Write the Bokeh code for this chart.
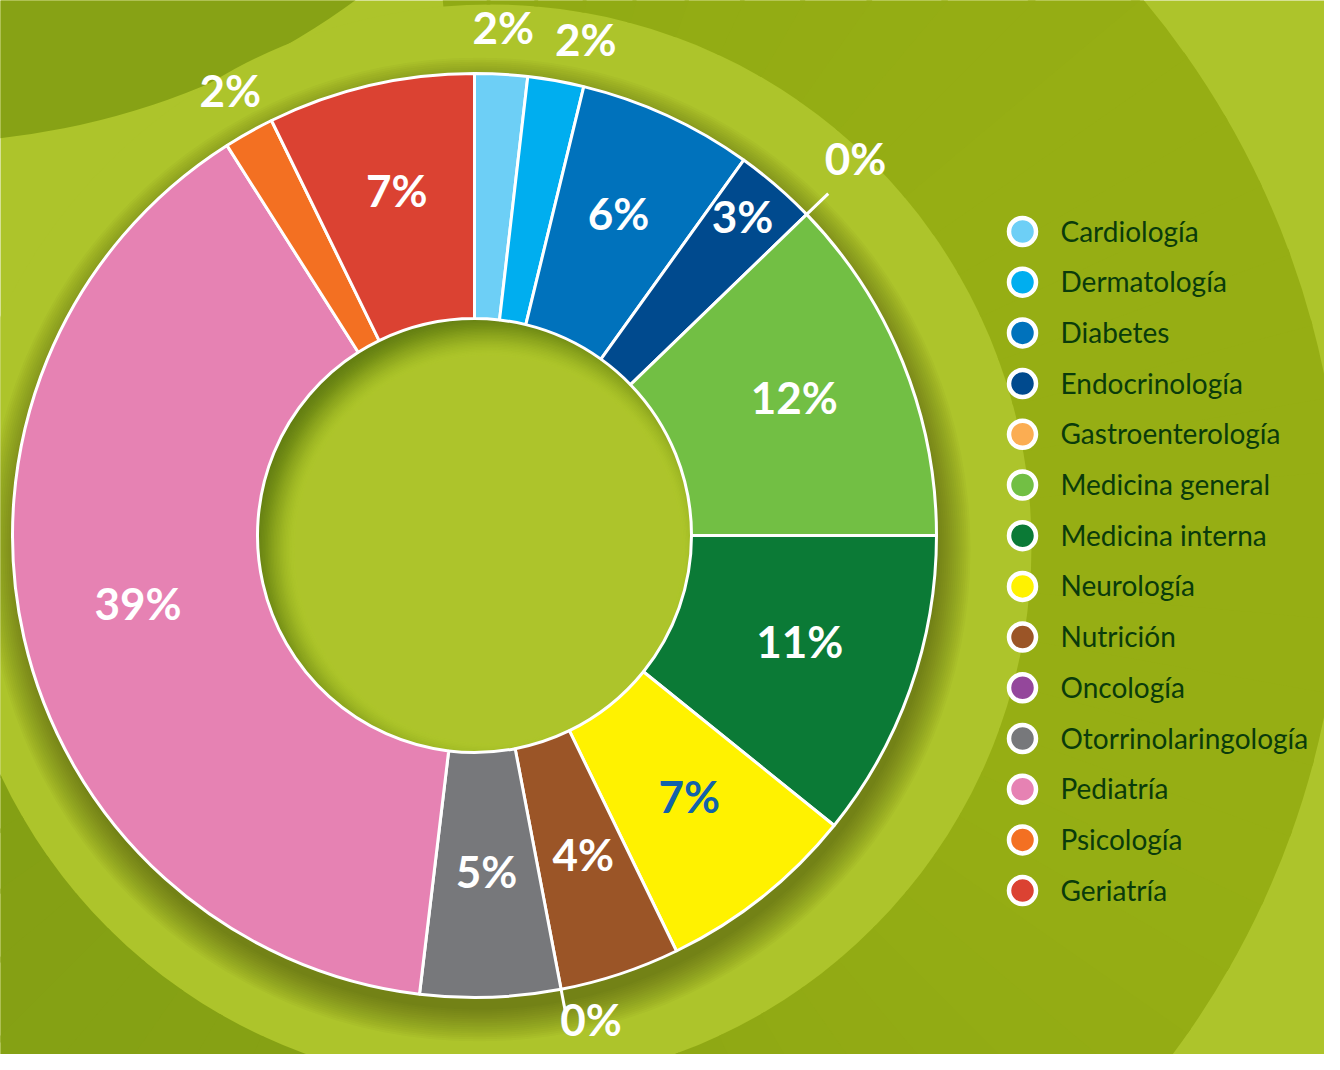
import numpy as np
from bokeh.plotting import figure
from bokeh.models import Range1d, ColumnDataSource
from bokeh.core.properties import value
from bokeh.embed import file_html
from bokeh.resources import INLINE

# ---------------- data ----------------
categories = ["Cardiología", "Dermatología", "Diabetes", "Endocrinología",
              "Gastroenterología", "Medicina general", "Medicina interna",
              "Neurología", "Nutrición", "Oncología", "Otorrinolaringología",
              "Pediatría", "Psicología", "Geriatría"]
values = [1.84, 1.96, 6.10, 2.87, 0.0, 12.23, 10.80, 7.00, 4.20, 0.0, 4.90,
          39.10, 1.76, 7.24]
colors = ["#6dcff6", "#00aeef", "#0072bc", "#004a8e", "#fbad52", "#72bf44",
          "#0b7a36", "#fff200", "#9b5527", "#94479b", "#77787b", "#e682b3",
          "#f37022", "#db4232"]

# ---------------- layout / style ----------------
W, H = 1340, 1070
PW, PH = 1324, 1054
LIGHT = "#adc42b"
CX, CY = 474, 535          # donut centre (design units, y up)
R_OUT, R_IN = 462, 217
TEXT_DARK = "#0a3b0b"
LABEL_LIFT = 9             # optical centring of the bold labels

p = figure(width=PW, height=PH, x_range=Range1d(0, PW),
           y_range=Range1d(H - PH, H), output_backend="svg",
           toolbar_location=None, min_border=0,
           x_axis_type=None, y_axis_type=None)
p.grid.visible = False
p.outline_line_color = None
p.background_fill_color = LIGHT
p.border_fill_color = LIGHT

# ---------------- decorative background ----------------
p.circle(x=[-80], y=[H + 594], radius=[736], fill_color="#87a215", line_color=None)
BX, BY = 490, H - 545
p.circle(x=[BX], y=[BY], radius=[541], fill_color=LIGHT, line_color=None)
keys_a = [200, 250, 300, 340, 400, 455]
keys_c = [(0x84, 0xa0, 0x14), (0x87, 0xa2, 0x14), (0x91, 0xaa, 0x14),
          (0x97, 0xaf, 0x14), (0x96, 0xae, 0x14), (0x90, 0xaa, 0x14)]
a0s, a1s, rc = [], [], []
for a in np.arange(200, 455, 5):
    t = a + 2.5
    rgb = [int(np.interp(t, keys_a, [c[i] for c in keys_c])) for i in range(3)]
    rc.append("#%02x%02x%02x" % tuple(rgb))
    a0s.append(np.radians(a))
    a1s.append(np.radians(min(a + 5.4, 455)))
p.annular_wedge(x=BX, y=BY, inner_radius=541, outer_radius=851,
                start_angle=a0s, end_angle=a1s, fill_color=rc, line_color=None)

# soft drop shadow under the donut (offset downwards)
for k in range(1, 18):
    p.circle(x=[CX + 4], y=[CY - 14], radius=[R_OUT - 4 + 2 * k], fill_color="#1e2a00",
             fill_alpha=0.026, line_color=None)

# hole with a smooth inner shadow (top-left)
p.circle(x=[CX], y=[CY], radius=[R_IN + 2], fill_color="#627a14", line_color=None)
radii = np.arange(242, 194, -1.5)
prev = 0.0
for r in radii:
    t = (242 - r) / (242 - 195)
    L = t * t * (3 - 2 * t)
    a = (L - prev) / (1 - prev) if prev < 1 else 1.0
    prev = L
    p.circle(x=[CX + 14], y=[CY - 14], radius=[r], fill_color=LIGHT,
             fill_alpha=float(max(a, 0.0)), line_color=None)
p.circle(x=[CX + 14], y=[CY - 14], radius=[194], fill_color=LIGHT, line_color=None)

# ---------------- donut ----------------
vals = np.array(values, dtype=float)
frac = vals / vals.sum()
cum_end = np.cumsum(frac)
cum_start = cum_end - frac
start_angle = np.pi / 2 - cum_end * 2 * np.pi
end_angle = np.pi / 2 - cum_start * 2 * np.pi
mid = (cum_start + cum_end) / 2

nz = vals > 0
wsrc = ColumnDataSource(dict(start=start_angle[nz], end=end_angle[nz],
                             color=[c for c, k in zip(colors, nz) if k]))
p.annular_wedge(x=CX, y=CY, inner_radius=R_IN, outer_radius=R_OUT,
                start_angle="start", end_angle="end", fill_color="color",
                line_color="white", line_width=3, source=wsrc)

# leader lines for zero slices
leader_len = {"Gastroenterología": 30, "Oncología": 24}
zx0, zy0, zx1, zy1 = [], [], [], []
for i in np.where(~nz)[0]:
    a = start_angle[i]
    ln = leader_len.get(categories[i], 30)
    zx0.append(CX + R_OUT * np.cos(a)); zy0.append(CY + R_OUT * np.sin(a))
    zx1.append(CX + (R_OUT + ln) * np.cos(a)); zy1.append(CY + (R_OUT + ln) * np.sin(a))
p.segment(x0=zx0, y0=zy0, x1=zx1, y1=zy1, line_color="white", line_width=3)

# percentage labels
angle_nudge = {"Dermatología": 0.0075, "Oncología": -0.007}
radius_for = {"Oncología": 506}
lx, ly, lt, lc = [], [], [], []
for i, (cat, v) in enumerate(zip(categories, values)):
    if v == 0:
        r = 530
    elif v < 2.5:
        r = 500
    elif v < 4:
        r = 410
    else:
        r = 345
    r = radius_for.get(cat, r)
    m = mid[i] + angle_nudge.get(cat, 0.0)
    a = np.pi / 2 - m * 2 * np.pi
    lx.append(CX + r * np.cos(a))
    ly.append(CY + r * np.sin(a) + LABEL_LIFT)
    lt.append("%d%%" % int(round(v)))
    lc.append("#1262aa" if cat == "Neurología" else "white")
p.text(x=lx, y=ly, text=lt, text_color=lc, text_font=value("Lato"),
       text_font_style="bold", text_font_size="44px", text_align="center",
       text_baseline="middle")

# ---------------- legend ----------------
leg_y = [H - (231 + 50.7 * i) for i in range(len(categories))]
p.scatter(x=[1022] * len(categories), y=leg_y, size=27, fill_color=colors,
          line_color="white", line_width=4.5)
p.text(x=[1060] * len(categories), y=[y + 1 for y in leg_y], text=categories,
       text_color=TEXT_DARK, text_font=value("Lato"), text_font_size="28px",
       text_align="left", text_baseline="middle")

open("out.html", "w").write(file_html(p, INLINE))
